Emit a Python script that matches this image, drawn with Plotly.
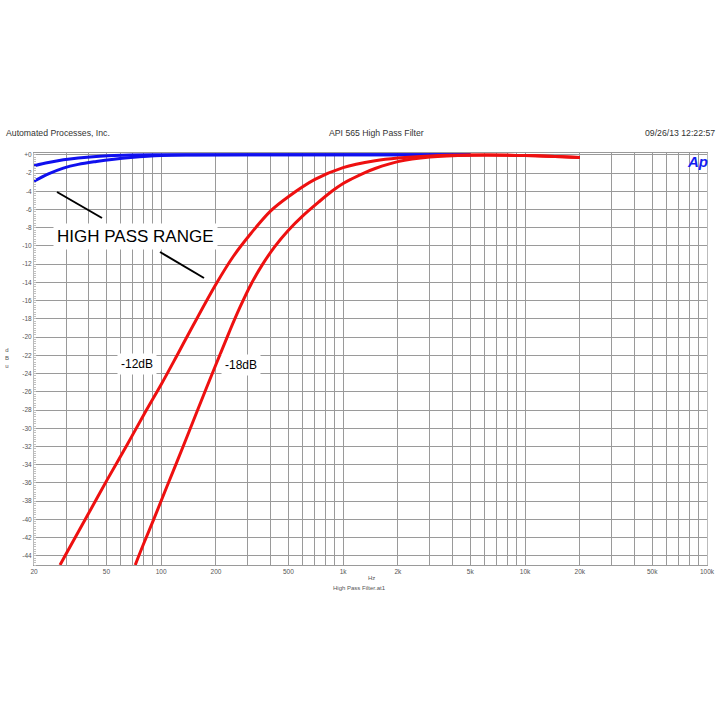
import plotly.graph_objects as go

# ---- data ----
blue_hi_f = [20, 24, 29, 35, 44, 55, 68, 100, 200, 500, 1000, 5000]
blue_hi_db = [-1.2, -0.85, -0.55, -0.35, -0.18, -0.08, -0.02, 0.0, 0.0, 0.0, 0.0, 0.0]

blue_lo_f = [20, 24, 29, 35, 44, 55, 68, 100, 150, 300, 1000, 5000]
blue_lo_db = [-2.9, -2.1, -1.46, -1.05, -0.73, -0.48, -0.3, -0.08, -0.02, 0.0, 0.0, 0.0]

red12_f = [27.8, 30, 40, 50, 65, 83, 100, 123, 150, 200, 250, 312, 400, 500, 700,
           1000, 1500, 2000, 3000, 5000, 10000, 20000]
red12_db = [-45, -43.8, -39.3, -35.8, -31.8, -28.0, -25.2, -21.9, -18.7, -14.2, -11.1, -8.6,
            -6.15, -4.6, -2.7, -1.4, -0.65, -0.35, -0.13, -0.03, -0.08, -0.3]

red18_f = [72, 80, 91, 108, 132, 160, 200, 236, 270, 312, 360, 420, 499, 600, 732, 867,
           1000, 1112, 1300, 1500, 2000, 3000, 5000, 10000, 20000]
red18_db = [-45, -42.7, -40.0, -36.3, -32.0, -27.8, -23.0, -19.5, -16.8, -14.2, -12.05, -10.1,
            -8.3, -6.7, -5.2, -4.0, -3.15, -2.65, -2.0, -1.5, -0.75, -0.25, -0.05, -0.08, -0.3]

x_tick_vals = [20, 30, 40, 50, 60, 70, 80, 90,
               100, 200, 300, 400, 500, 600, 700, 800, 900,
               1000, 2000, 3000, 4000, 5000, 6000, 7000, 8000, 9000,
               10000, 20000, 30000, 40000, 50000, 60000, 70000, 80000, 90000, 100000]
x_tick_text = ["20", "", "", "50", "", "", "", "",
               "100", "200", "", "", "500", "", "", "", "",
               "1k", "2k", "", "", "5k", "", "", "", "",
               "10k", "20k", "", "", "50k", "", "", "", "", "100k"]

y_tick_vals = [0, -2, -4, -6, -8, -10, -12, -14, -16, -18, -20, -22, -24, -26, -28, -30,
               -32, -34, -36, -38, -40, -42, -44]
y_tick_text = ["+0"] + [str(v) for v in y_tick_vals[1:]]

FONT = "Liberation Sans, Arial, Helvetica, sans-serif"
RED = "rgb(238,16,16)"
BLUE = "rgb(16,16,238)"

fig = go.Figure()
for fx, fy, col in [(blue_hi_f, blue_hi_db, BLUE), (blue_lo_f, blue_lo_db, BLUE),
                    (red12_f, red12_db, RED), (red18_f, red18_db, RED)]:
    fig.add_trace(go.Scatter(x=fx, y=fy, mode="lines", hoverinfo="skip",
                             line=dict(color=col, width=3, shape="spline", smoothing=1.0)))

L, R, T, B = 34, 13, 153, 155
W = 720 - L - R
H = 720 - T - B


def px(xp):
    return (xp - L) / W


def py(yp):
    return (720 - B - yp) / H


fig.update_layout(
    width=720, height=720,
    margin=dict(l=L, r=R, t=T, b=B, pad=0),
    paper_bgcolor="white", plot_bgcolor="white",
    showlegend=False,
    font=dict(family=FONT, color="#444"),
    xaxis=dict(type="log", range=[1.30103, 5.0], automargin=False,
               tickmode="array", tickvals=x_tick_vals, ticktext=x_tick_text,
               showgrid=True, gridcolor="#9a9a9a", gridwidth=1,
               ticks="", tickfont=dict(size=6.5, color="#555"),
               showline=True, linecolor="#9a9a9a", mirror=True,
               zeroline=False),
    yaxis=dict(range=[-45, 0.2], automargin=False,
               tickmode="array", tickvals=y_tick_vals, ticktext=y_tick_text,
               showgrid=True, gridcolor="#9a9a9a", gridwidth=1,
               ticks="", tickfont=dict(size=6.5, color="#555"),
               showline=True, linecolor="#bbbbbb", mirror=True,
               zeroline=False,
               minor=dict(dtick=0.25, ticks="inside", ticklen=2, tickcolor="#c0c0c0",
                          showgrid=False)),
)

# black pointer lines
fig.add_shape(type="line", xref="paper", yref="paper",
              x0=px(57), y0=py(192), x1=px(102), y1=py(218),
              line=dict(color="black", width=2))
fig.add_shape(type="line", xref="paper", yref="paper",
              x0=px(160), y0=py(252), x1=px(204), y1=py(278),
              line=dict(color="black", width=2))


def note(text, x, y, size, color="black", xanchor="center", **kw):
    fig.add_annotation(text=text, x=px(x), y=py(y), xref="paper", yref="paper",
                       xanchor=xanchor, yanchor="middle", showarrow=False,
                       font=dict(size=size, color=color, family=FONT), **kw)


note("HIGH PASS RANGE", 135, 236, 17, bgcolor="white", borderpad=3)
note("-12dB", 137, 364, 12, bgcolor="white", borderpad=3)
note("-18dB", 241, 365, 12, bgcolor="white", borderpad=3)
note("<b><i>Ap</i></b>", 697, 161, 15, color="rgb(20,30,240)")
# header
note("Automated Processes, Inc.", 4, 133, 8.7, color="#333", xanchor="left")
note("API 565 High Pass Filter", 376, 133, 8.7, color="#333")
note("09/26/13 12:22:57", 717, 133, 8.7, color="#333", xanchor="right")
# axis titles
note("Hz", 371, 578, 6, color="#555")
note("High Pass Filter.at1", 359, 588, 6, color="#555")
note("d<br>B<br>u", 7, 358, 6, color="#555")

fig.write_html("out.html", config={"displayModeBar": False},
               post_script="document.body.style.margin='0';document.body.style.padding='0';")
